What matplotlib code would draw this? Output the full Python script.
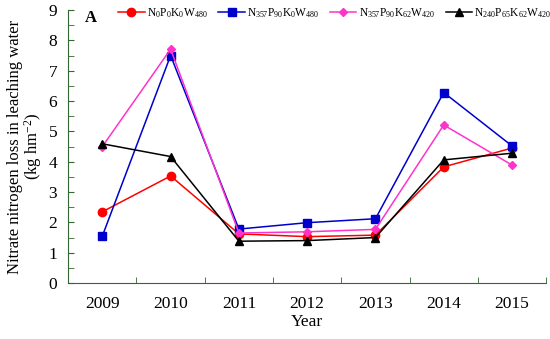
import matplotlib
matplotlib.use('Agg')
from matplotlib import pyplot as plt
from matplotlib.ticker import MultipleLocator, FixedLocator

plt.rcParams['font.family'] = 'Liberation Serif'
plt.rcParams['mathtext.fontset'] = 'custom'
plt.rcParams['mathtext.rm'] = 'Liberation Serif'
plt.rcParams['mathtext.it'] = 'Liberation Serif:italic'
plt.rcParams['mathtext.bf'] = 'Liberation Serif:bold'

years = ['2009', '2010', '2011', '2012', '2013', '2014', '2015']
n0p0k0 = [2.35, 3.53, 1.62, 1.53, 1.58, 3.83, 4.45]
n357p90k0 = [1.55, 7.50, 1.78, 1.99, 2.12, 6.28, 4.52]
n357p90k62 = [4.50, 7.71, 1.65, 1.69, 1.77, 5.21, 3.89]
n240p65k62 = [4.59, 4.17, 1.38, 1.40, 1.50, 4.06, 4.28]

labels = [r'$\mathregular{N_0P_0K_0W_{480}}$',
          r'$\mathregular{N_{357}P_{90}K_0W_{480}}$',
          r'$\mathregular{N_{357}P_{90}K_{62}W_{420}}$',
          r'$\mathregular{N_{240}P_{65}K_{62}W_{420}}$']

fig = plt.figure(figsize=(5.5, 3.39), dpi=100)
ax = fig.add_axes([0.124, 0.165, 0.869, 0.8055])

x = range(len(years))
ax.plot(x, n0p0k0, color='#ff0000', marker='o', markersize=6, lw=1.1, label=labels[0])
ax.plot(x, n357p90k0, color='#0000cc', marker='s', markersize=6, lw=1.1, label=labels[1])
ax.plot(x, n357p90k62, color='#ff33cc', marker='D', markersize=4, lw=1.1, label=labels[2])
ax.plot(x, n240p65k62, color='#000000', marker='^', markersize=6, lw=1.1, label=labels[3])

ax.set_xlim(-0.5, len(years) - 0.5)
ax.set_ylim(0, 9)
ax.xaxis.set_major_locator(FixedLocator(list(x)))
ax.set_xticklabels(years, fontsize=12.5)
ax.xaxis.set_minor_locator(FixedLocator([i + 0.5 for i in x]))
ax.tick_params(axis='x', which='major', length=0, pad=9)
ax.tick_params(axis='x', which='minor', direction='in', length=4, color='#336633')
ax.yaxis.set_major_locator(MultipleLocator(1))
ax.yaxis.set_minor_locator(MultipleLocator(0.5))
ax.tick_params(axis='y', which='both', direction='in', length=4, color='#336633', labelsize=12.5, pad=8)

for s in ['top', 'right']:
    ax.spines[s].set_visible(False)
for s in ['left', 'bottom']:
    ax.spines[s].set_color('#336633')

ax.set_xlabel('Year', fontsize=12.5, labelpad=2)
ax.set_ylabel('Nitrate nitrogen loss in leaching water\n(kg hm$^{-2}$)', fontsize=12, linespacing=0.95, labelpad=3)
ax.text(0.035, 1.0, 'A', transform=ax.transAxes, fontsize=12, fontweight='bold', va='top')

ax.legend(loc='upper left', bbox_to_anchor=(0.09, 1.04), ncol=4, frameon=False, fontsize=8.3,
          handlelength=2.3, handletextpad=0.2, columnspacing=0.9, borderaxespad=0.2)

plt.savefig('out.png', dpi=100)
